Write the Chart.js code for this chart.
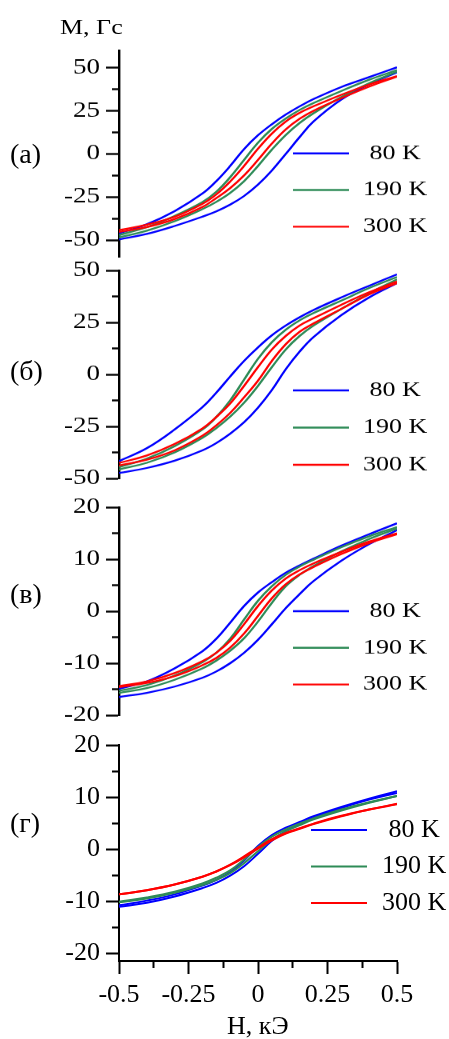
<!DOCTYPE html>
<html>
<head>
<meta charset="utf-8">
<script src="https://cdn.jsdelivr.net/npm/chart.js@4.4.1/dist/chart.umd.min.js"></script>
<style>
  html, body { margin: 0; padding: 0; background: #fff; }
  body { width: 449px; height: 1039px; position: relative; overflow: hidden; font-family: "Liberation Serif", "Times New Roman", serif; color: #000; }
  /* the three upper panels are vertically squeezed in the original figure */
  #squeeze { position: absolute; left: 0; top: 0; width: 449px; height: 1000px; transform: scaleY(0.8); transform-origin: 0 0; }
  canvas { position: absolute; left: 0; }
  .lbl { position: absolute; white-space: nowrap; line-height: 1; }
</style>
</head>
<body>
<div id="squeeze">
  <div class="lbl" style="left:60px; top:22px; font-size:26px;">M, Гс</div>
  <canvas id="panelA" width="449" height="309" style="top:37.5px"></canvas>
  <canvas id="panelB" width="449" height="310" style="top:312.5px"></canvas>
  <canvas id="panelC" width="449" height="310" style="top:608.75px"></canvas>
</div>
<canvas id="panelD" width="449" height="316" style="top:720px"></canvas>
<div class="lbl" style="left:10px; top:140px; font-size:28px;">(a)</div>
<div class="lbl" style="left:10px; top:357px; font-size:28px;">(б)</div>
<div class="lbl" style="left:10px; top:580px; font-size:28px;">(в)</div>
<div class="lbl" style="left:10px; top:809px; font-size:28px;">(г)</div>
<div class="lbl" style="left:227px; top:1013px; font-size:26px;">H, кЭ</div>

<script>
const fieldH = [-0.5, -0.4, -0.3, -0.2, -0.15, -0.1, -0.05, 0, 0.05, 0.1, 0.15, 0.2, 0.3, 0.4, 0.5];

const tempLabels = [' 80 K', '190 K', '300 K'];
const tempColors = ['#0000ff', '#2e8b57', '#ff0000'];

// panel (a), M in Gs: upper (descending) and lower (ascending) branches
const a80Up    = [-46.1, -40.8, -33.2, -23.0, -15.8, -7.0, 2.8, 10.8, 17.2, 22.8, 27.6, 31.8, 38.8, 44.5, 50.2];
const a80Down  = [-49.6, -46.4, -41.8, -36.4, -33.3, -29.4, -24.4, -17.8, -9.6, 0.0, 9.8, 18.8, 31.5, 40.3, 47.3];
const a190Up   = [-47.1, -42.5, -36.0, -28.0, -22.0, -13.5, -3.5, 6.5, 14.5, 20.5, 25.5, 29.5, 36.5, 43.0, 48.6];
const a190Down = [-48.4, -44.5, -39.0, -32.0, -27.8, -22.6, -15.8, -7.0, 2.5, 11.0, 18.0, 23.6, 33.0, 41.0, 47.7];
const a300Up   = [-44.2, -41.0, -36.5, -29.0, -23.5, -16.0, -7.0, 3.0, 11.8, 18.8, 23.8, 27.6, 34.3, 40.2, 45.1];
const a300Down = [-45.2, -42.4, -37.8, -30.8, -25.6, -19.8, -12.5, -3.5, 6.0, 14.2, 20.4, 25.0, 32.3, 39.0, 44.8];

// panel (б)
const b80Up    = [-41.7, -35.5, -26.5, -15.8, -8.8, -1.0, 6.5, 13.0, 18.8, 23.5, 27.5, 31.0, 37.0, 42.6, 48.1];
const b80Down  = [-47.4, -45.0, -41.5, -36.5, -33.0, -28.5, -23.0, -16.0, -7.5, 2.5, 11.0, 18.0, 28.5, 37.0, 43.9];
const b190Up   = [-44.6, -40.5, -34.5, -26.5, -20.5, -12.5, -2.5, 7.5, 15.5, 21.5, 26.0, 29.5, 35.5, 41.5, 46.8];
const b190Down = [-45.7, -42.5, -37.5, -30.5, -25.8, -20.3, -13.6, -5.5, 3.5, 12.0, 18.5, 23.5, 31.5, 39.0, 45.7];
const b300Up   = [-42.6, -39.0, -33.5, -26.0, -20.5, -14.0, -5.5, 3.5, 12.0, 18.5, 23.5, 27.0, 33.5, 39.5, 44.7];
const b300Down = [-43.8, -41.0, -36.5, -29.5, -24.5, -18.5, -11.0, -3.0, 6.5, 14.5, 20.5, 24.5, 31.5, 38.5, 43.9];

// panel (в)
const c80Up    = [-14.9, -13.5, -11.0, -7.7, -5.3, -2.2, 1.0, 3.6, 5.6, 7.4, 8.8, 10.1, 12.6, 14.8, 16.9];
const c80Down  = [-16.5, -15.7, -14.5, -12.8, -11.6, -10.0, -8.0, -5.5, -2.5, 0.6, 3.3, 5.8, 9.7, 12.9, 15.6];
const c190Up   = [-15.3, -14.2, -12.4, -9.8, -8.0, -5.3, -1.6, 2.0, 4.8, 7.0, 8.6, 9.9, 12.3, 14.4, 16.2];
const c190Down = [-15.7, -14.8, -13.2, -11.0, -9.5, -7.6, -5.2, -2.0, 1.6, 4.8, 7.0, 8.7, 11.5, 13.9, 15.9];
const c300Up   = [-14.4, -13.5, -11.9, -9.6, -8.0, -5.7, -2.5, 1.0, 4.0, 6.3, 7.9, 9.2, 11.4, 13.4, 15.0];
const c300Down = [-14.6, -13.8, -12.5, -10.4, -9.0, -7.0, -4.3, -0.9, 2.5, 5.2, 7.1, 8.5, 11.0, 13.1, 14.8];

// panel (г)
const d80Up    = [-10.8, -9.9, -8.7, -7.0, -5.9, -4.4, -2.2, 0.6, 2.7, 4.1, 5.2, 6.3, 8.1, 9.7, 11.1];
const d80Down  = [-11.1, -10.3, -9.1, -7.5, -6.5, -5.1, -3.3, -0.9, 1.6, 3.5, 4.9, 6.0, 7.9, 9.5, 10.8];
const d190Up   = [-10.1, -9.3, -8.2, -6.6, -5.5, -4.1, -2.0, 0.4, 2.4, 3.8, 4.9, 5.9, 7.6, 9.0, 10.2];
const d190Down = [-10.2, -9.5, -8.4, -6.9, -5.9, -4.6, -2.7, -0.4, 1.8, 3.4, 4.6, 5.7, 7.4, 8.9, 10.2];
const d300Up   = [-8.7, -7.9, -6.8, -5.3, -4.3, -3.0, -1.4, 0.3, 1.9, 3.1, 4.0, 4.9, 6.4, 7.6, 8.7];
const d300Down = [-8.7, -7.9, -6.8, -5.3, -4.3, -3.1, -1.6, 0.1, 1.7, 3.0, 3.9, 4.8, 6.3, 7.6, 8.6];

// tick values and labels
const yTicksBig = [-50, -25, 0, 25, 50];
const yMinorBig = [-37.5, -12.5, 12.5, 37.5];
const yTicksSmall = [-20, -10, 0, 10, 20];
const yMinorSmall = [-15, -5, 5, 15];
const xTicks = [-0.5, -0.25, 0, 0.25, 0.5];
const xMinor = [-0.375, -0.125, 0.125, 0.375];
const xTickLabels = ['-0.5', '-0.25', '0', '0.25', '0.5'];

const FONT = '"Liberation Serif", "Times New Roman", serif';

// draws the small legend inside the plot area
const innerLegend = {
  id: 'innerLegend',
  afterDatasetsDraw(chart, args, opts) {
    const { ctx, chartArea } = chart;
    ctx.save();
    ctx.font = opts.fontSize + 'px ' + FONT;
    ctx.textBaseline = 'middle';
    ctx.lineWidth = opts.lineWidth;
    tempLabels.forEach((txt, i) => {
      const x = chartArea.left + opts.left;
      const y = chartArea.top + opts.top + i * opts.gap;
      ctx.strokeStyle = tempColors[i];
      ctx.beginPath();
      ctx.moveTo(x, y);
      ctx.lineTo(x + opts.lineLen, y);
      ctx.stroke();
      ctx.fillStyle = '#000';
      ctx.fillText(txt, x + opts.lineLen + opts.textGap, y);
    });
    ctx.restore();
  }
};

function branch(values) {
  return values.map((m, i) => ({ x: fieldH[i], y: m }));
}

function makeDatasets(set, lw) {
  // red first so it lies on top (chart.js draws dataset 0 last)
  const out = [];
  [[set.r1, set.r2, 2], [set.g1, set.g2, 1], [set.b1, set.b2, 0]].forEach(([u, d, k]) => {
    [u, d].forEach(arr => out.push({
      label: tempLabels[k],
      data: branch(arr),
      borderColor: tempColors[k],
      borderWidth: lw,
      pointRadius: 0,
      fill: false,
      tension: 0.4
    }));
  });
  return out;
}

function makeChart(id, set, cfg) {
  const scales = {
    x: {
      type: 'linear', min: -0.5, max: 0.5, position: 'bottom', weight: 1,
      display: cfg.showX
    },
    y: {
      type: 'linear', position: 'left', min: cfg.ymin, max: cfg.ymax, weight: 1,
      afterBuildTicks: s => { s.ticks = cfg.major.map(v => ({ value: v })); },
      afterFit: s => { s.width = 119; },
      ticks: {
        autoSkip: false, padding: 6, color: '#000',
        font: { family: FONT, size: cfg.tickFont },
        callback: v => String(v)
      },
      grid: { drawOnChartArea: false, tickLength: 13, tickWidth: cfg.axisWidth, tickColor: '#000' },
      border: { display: true, color: '#000', width: cfg.axisWidth }
    },
    yMinor: {
      type: 'linear', position: 'left', min: cfg.ymin, max: cfg.ymax, weight: 0,
      afterBuildTicks: s => { s.ticks = cfg.minor.map(v => ({ value: v })); },
      afterFit: s => { s.width = 0; },
      ticks: { display: false, autoSkip: false },
      grid: { drawOnChartArea: false, tickLength: 7, tickWidth: cfg.axisWidth, tickColor: '#000' },
      border: { display: false }
    }
  };
  if (cfg.showX) {
    Object.assign(scales.x, {
      afterBuildTicks: s => { s.ticks = xTicks.map(v => ({ value: v })); },
      afterFit: s => { s.height = 75; },
      ticks: {
        autoSkip: false, padding: 6, color: '#000', maxRotation: 0,
        font: { family: FONT, size: cfg.tickFont },
        callback: (v, i) => xTickLabels[i]
      },
      grid: { drawOnChartArea: false, tickLength: 13, tickWidth: 2, tickColor: '#000' },
      border: { display: true, color: '#000', width: 2 }
    });
    scales.xMinor = {
      type: 'linear', position: 'bottom', min: -0.5, max: 0.5, weight: 0,
      afterBuildTicks: s => { s.ticks = xMinor.map(v => ({ value: v })); },
      afterFit: s => { s.height = 0; },
      ticks: { display: false, autoSkip: false },
      grid: { drawOnChartArea: false, tickLength: 7, tickWidth: 2, tickColor: '#000' },
      border: { display: false }
    };
  }

  return new Chart(document.getElementById(id), {
    type: 'line',
    data: { datasets: makeDatasets(set, cfg.lineWidth) },
    options: {
      responsive: false,
      animation: false,
      devicePixelRatio: 1,
      layout: { padding: { left: 0, right: 52, top: 25, bottom: cfg.padBottom } },
      plugins: {
        legend: { display: false },
        tooltip: { enabled: false },
        innerLegend: cfg.legend
      },
      scales: scales
    },
    plugins: [innerLegend]
  });
}

makeChart('panelA',
  { b1: a80Up, b2: a80Down, g1: a190Up, g2: a190Down, r1: a300Up, r2: a300Down },
  { ymin: -60, ymax: 60, major: yTicksBig, minor: yMinorBig, tickFont: 27, showX: false, padBottom: 25.25,
    lineWidth: 2.3, axisWidth: 2.4,
    legend: { left: 174, top: 128.75, gap: 45.8, lineLen: 56, textGap: 14, fontSize: 26, lineWidth: 2.4 } });

makeChart('panelB',
  { b1: b80Up, b2: b80Down, g1: b190Up, g2: b190Down, r1: b300Up, r2: b300Down },
  { ymin: -50, ymax: 50, major: yTicksBig, minor: yMinorBig, tickFont: 27, showX: false, padBottom: 25,
    lineWidth: 2.3, axisWidth: 2.4,
    legend: { left: 174, top: 150, gap: 46.5, lineLen: 56, textGap: 14, fontSize: 26, lineWidth: 2.4 } });

makeChart('panelC',
  { b1: c80Up, b2: c80Down, g1: c190Up, g2: c190Down, r1: c300Up, r2: c300Down },
  { ymin: -20, ymax: 20, major: yTicksSmall, minor: yMinorSmall, tickFont: 27, showX: false, padBottom: 25,
    lineWidth: 2.3, axisWidth: 2.4,
    legend: { left: 174, top: 130, gap: 45.8, lineLen: 56, textGap: 14, fontSize: 26, lineWidth: 2.4 } });

makeChart('panelD',
  { b1: d80Up, b2: d80Down, g1: d190Up, g2: d190Down, r1: d300Up, r2: d300Down },
  { ymin: -21.5, ymax: 20, major: yTicksSmall, minor: yMinorSmall, tickFont: 26, showX: true, padBottom: 0,
    lineWidth: 2, axisWidth: 2,
    legend: { left: 192, top: 85, gap: 36.5, lineLen: 56, textGap: 15, fontSize: 26, lineWidth: 2 } });
</script>
</body>
</html>
